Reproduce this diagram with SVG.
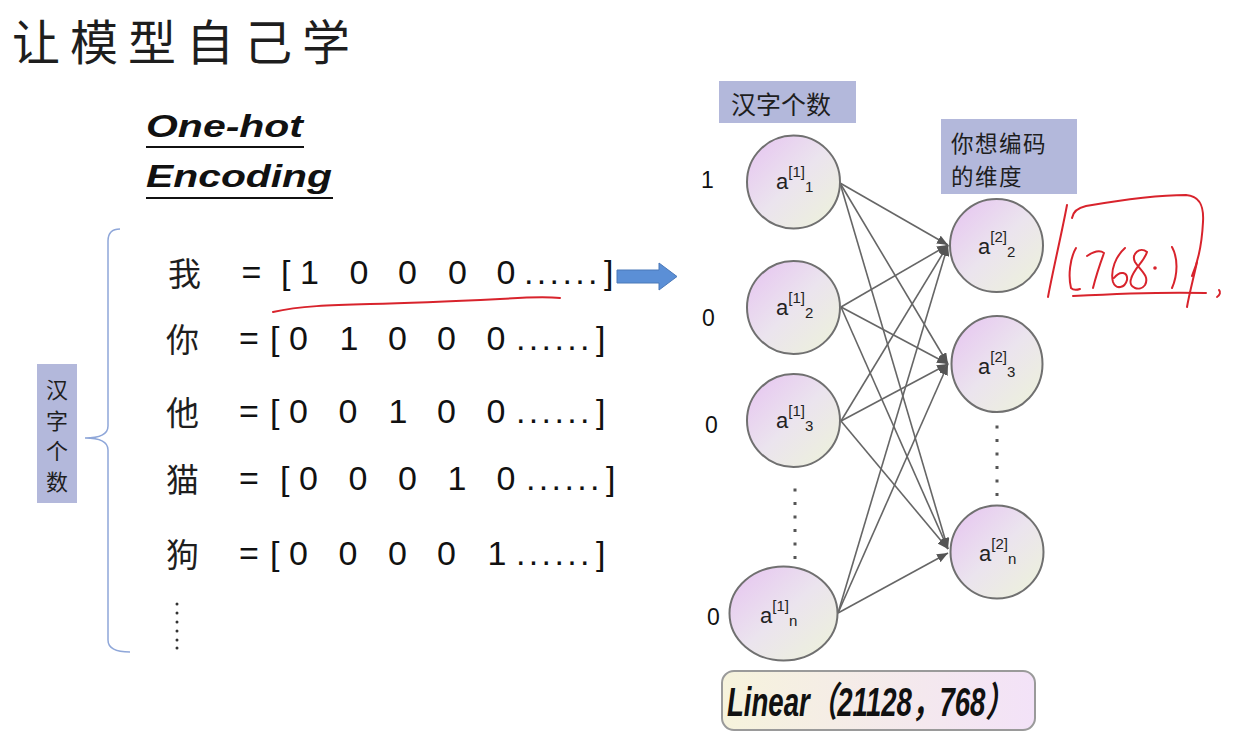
<svg xmlns="http://www.w3.org/2000/svg" width="1252" height="740" viewBox="0 0 1252 740">
<style>
.cjk{font-family:"Noto Sans CJK SC","Noto Sans",sans-serif;fill:#1e1e1e}
.lat{font-family:"Liberation Sans",Arial,sans-serif;fill:#111}
.row{font-size:34px}
.ch{font-size:33px}
.lbl{font-family:"Liberation Sans",Arial,sans-serif;font-size:22px;fill:#222}
.sup{font-size:15px}
.node{stroke:#707070;stroke-width:2;fill:url(#ng)}
.box{fill:#b3b8db}
.conn line{stroke:#666;stroke-width:1.6;marker-end:url(#ah)}
.red{fill:none;stroke:#d8232c;stroke-width:2;stroke-linecap:round;stroke-linejoin:round}
.dot{fill:#555}
</style>
<defs>
<linearGradient id="ng" x1="0" y1="0" x2="1" y2="1">
<stop offset="0" stop-color="#e6c2f1"/>
<stop offset="0.5" stop-color="#ebe4ee"/>
<stop offset="1" stop-color="#edf3d9"/>
</linearGradient>
<linearGradient id="lg" x1="0" y1="0" x2="1" y2="0">
<stop offset="0" stop-color="#f6f3dc"/>
<stop offset="1" stop-color="#f3e2f8"/>
</linearGradient>
<marker id="ah" markerUnits="userSpaceOnUse" markerWidth="11" markerHeight="9" refX="11" refY="4.5" orient="auto">
<path d="M0,0 L11,4.5 L0,9 z" fill="#555"/>
</marker>
</defs>
<rect width="1252" height="740" fill="#ffffff"/>

<g id="title">
<text class="cjk" x="12" y="60" font-size="48" letter-spacing="10" fill="#2a2a2a">让模型自己学</text>
</g>

<g id="onehot-heading">
<text class="lat" x="146" y="137" font-size="31" font-weight="bold" font-style="italic" textLength="157" lengthAdjust="spacingAndGlyphs">One-hot</text>
<line x1="146" y1="147" x2="304" y2="147" stroke="#111" stroke-width="2"/>
<text class="lat" x="146" y="187" font-size="31" font-weight="bold" font-style="italic" textLength="186" lengthAdjust="spacingAndGlyphs">Encoding</text>
<line x1="146" y1="198" x2="333" y2="198" stroke="#111" stroke-width="2"/>
</g>

<g id="brace">
<path d="M120,229 Q108,229 108,241 L108,426 Q108,438 85,438 Q108,438 108,450 L108,640 Q108,652 130,652" fill="none" stroke="#8fa7d9" stroke-width="1.5"/>
</g>

<g id="left-label">
<rect class="box" x="37" y="364" width="40" height="139"/>
<text class="cjk" font-size="22" text-anchor="middle">
<tspan x="57" y="398">汉</tspan><tspan x="57" y="429">字</tspan><tspan x="57" y="459">个</tspan><tspan x="57" y="490">数</tspan>
</text>
</g>

<g id="row-wo">
<text class="cjk ch" x="168" y="286">我</text>
<text class="lat row" x="251.5" y="284" text-anchor="middle">=</text>
<text class="lat row" x="281" y="284">[</text>
<text class="lat row" text-anchor="middle" y="284"><tspan x="309.5">1</tspan><tspan x="359">0</tspan><tspan x="407.5">0</tspan><tspan x="457.5">0</tspan><tspan x="506">0</tspan></text>
<text class="lat row" x="524" y="284" letter-spacing="3.35">......</text>
<text class="lat row" x="604" y="284">]</text>
</g>

<g id="row-ni">
<text class="cjk ch" x="166" y="352">你</text>
<text class="lat row" x="249" y="350" text-anchor="middle">=</text>
<text class="lat row" x="270" y="350">[</text>
<text class="lat row" text-anchor="middle" y="350"><tspan x="298.5">0</tspan><tspan x="349">1</tspan><tspan x="397.5">0</tspan><tspan x="446.5">0</tspan><tspan x="496">0</tspan></text>
<text class="lat row" x="516" y="350" letter-spacing="3.35">......</text>
<text class="lat row" x="596" y="350">]</text>
</g>

<g id="row-ta">
<text class="cjk ch" x="166" y="425">他</text>
<text class="lat row" x="249" y="423" text-anchor="middle">=</text>
<text class="lat row" x="270" y="423">[</text>
<text class="lat row" text-anchor="middle" y="423"><tspan x="298.5">0</tspan><tspan x="348">0</tspan><tspan x="398">1</tspan><tspan x="446.5">0</tspan><tspan x="496">0</tspan></text>
<text class="lat row" x="516" y="423" letter-spacing="3.35">......</text>
<text class="lat row" x="596" y="423">]</text>
</g>

<g id="row-mao">
<text class="cjk ch" x="166" y="492">猫</text>
<text class="lat row" x="249" y="490" text-anchor="middle">=</text>
<text class="lat row" x="280" y="490">[</text>
<text class="lat row" text-anchor="middle" y="490"><tspan x="308.5">0</tspan><tspan x="358">0</tspan><tspan x="407.5">0</tspan><tspan x="457">1</tspan><tspan x="506">0</tspan></text>
<text class="lat row" x="526" y="490" letter-spacing="3.35">......</text>
<text class="lat row" x="606" y="490">]</text>
</g>

<g id="row-gou">
<text class="cjk ch" x="166" y="567">狗</text>
<text class="lat row" x="249" y="565" text-anchor="middle">=</text>
<text class="lat row" x="270" y="565">[</text>
<text class="lat row" text-anchor="middle" y="565"><tspan x="298.5">0</tspan><tspan x="348">0</tspan><tspan x="397.5">0</tspan><tspan x="446.5">0</tspan><tspan x="497">1</tspan></text>
<text class="lat row" x="516" y="565" letter-spacing="3.35">......</text>
<text class="lat row" x="596" y="565">]</text>
</g>

<g id="rows-ellipsis" fill="#333">
<circle cx="177" cy="604" r="1.5"/><circle cx="177" cy="613" r="1.5"/><circle cx="177" cy="622" r="1.5"/><circle cx="177" cy="631" r="1.5"/><circle cx="177" cy="640" r="1.5"/><circle cx="177" cy="648" r="1.5"/>
</g>

<g id="red-underline">
<path class="red" d="M273,312 C300,306 330,305 370,304 C420,303 460,301 500,299 C530,297 550,297 560,298" stroke-width="1.5"/>
</g>

<g id="big-arrow">
<path d="M617,270 L659,270 L659,263 L677,276.5 L659,290 L659,283 L617,283 z" fill="#5b8fd6" stroke="#4a78b8" stroke-width="1"/>
</g>

<g id="box-hanzi">
<rect class="box" x="719" y="81" width="137" height="42"/>
<text class="cjk" x="731" y="114" font-size="25">汉字个数</text>
</g>

<g id="box-dim">
<rect class="box" x="941" y="119" width="136" height="75"/>
<text class="cjk" x="951" y="151.5" font-size="22.5" letter-spacing="1.5">你想编码</text>
<text class="cjk" x="951" y="184.5" font-size="22.5" letter-spacing="1.5">的维度</text>
</g>

<g id="inputs">
<text class="lat" x="701" y="188" font-size="23">1</text>
<text class="lat" x="702" y="326" font-size="23">0</text>
<text class="lat" x="705" y="433" font-size="23">0</text>
<text class="lat" x="707" y="625" font-size="23">0</text>
</g>

<g class="conn" id="connectors">
<line x1="840" y1="183" x2="948" y2="245"/>
<line x1="840" y1="183" x2="948" y2="364"/>
<line x1="840" y1="183" x2="948" y2="549"/>
<line x1="841" y1="307" x2="948" y2="245"/>
<line x1="841" y1="307" x2="948" y2="364"/>
<line x1="841" y1="307" x2="948" y2="549"/>
<line x1="841" y1="421" x2="948" y2="245"/>
<line x1="841" y1="421" x2="948" y2="364"/>
<line x1="841" y1="421" x2="948" y2="549"/>
<line x1="838" y1="613" x2="948" y2="245"/>
<line x1="838" y1="613" x2="948" y2="364"/>
<line x1="838" y1="613" x2="948" y2="553"/>
</g>

<g id="n11">
<circle class="node" cx="793.5" cy="182" r="46.5"/>
<text class="lbl" x="776" y="189">a<tspan class="sup" dy="-12">[1]</tspan><tspan class="sup" dy="15">1</tspan></text>
</g>
<g id="n12">
<circle class="node" cx="793.5" cy="307.5" r="46.5"/>
<text class="lbl" x="776" y="315">a<tspan class="sup" dy="-12">[1]</tspan><tspan class="sup" dy="15">2</tspan></text>
</g>
<g id="n13">
<circle class="node" cx="793.5" cy="420.5" r="46.5"/>
<text class="lbl" x="776" y="428">a<tspan class="sup" dy="-12">[1]</tspan><tspan class="sup" dy="15">3</tspan></text>
</g>
<g id="n1n">
<ellipse class="node" cx="783.5" cy="613.5" rx="54" ry="47"/>
<text class="lbl" x="760" y="623">a<tspan class="sup" dy="-12">[1]</tspan><tspan class="sup" dy="15">n</tspan></text>
</g>
<g id="dots1" class="dot">
<rect x="793.5" y="488.5" width="3" height="3"/><rect x="793.5" y="502" width="3" height="3"/><rect x="793.5" y="515.5" width="3" height="3"/><rect x="793.5" y="529" width="3" height="3"/><rect x="793.5" y="542.5" width="3" height="3"/><rect x="793.5" y="556" width="3" height="3"/>
</g>

<g id="n22">
<circle class="node" cx="996.5" cy="245.5" r="46.5"/>
<text class="lbl" x="978" y="254">a<tspan class="sup" dy="-12">[2]</tspan><tspan class="sup" dy="15">2</tspan></text>
</g>
<g id="n23">
<ellipse class="node" cx="997" cy="364" rx="45.5" ry="48"/>
<text class="lbl" x="978" y="374">a<tspan class="sup" dy="-12">[2]</tspan><tspan class="sup" dy="15">3</tspan></text>
</g>
<g id="n2n">
<circle class="node" cx="997" cy="552" r="46.5"/>
<text class="lbl" x="979" y="561">a<tspan class="sup" dy="-12">[2]</tspan><tspan class="sup" dy="15">n</tspan></text>
</g>
<g id="dots2" class="dot">
<rect x="995.5" y="425.5" width="3" height="3"/><rect x="995.5" y="439" width="3" height="3"/><rect x="995.5" y="452.5" width="3" height="3"/><rect x="995.5" y="466" width="3" height="3"/><rect x="995.5" y="479.5" width="3" height="3"/><rect x="995.5" y="493" width="3" height="3"/>
</g>

<g id="linear-box">
<rect x="722" y="671" width="313" height="59" rx="12" fill="url(#lg)" stroke="#9a9a9a" stroke-width="2"/>
<text x="727" y="716" font-family="'Liberation Sans','Noto Sans CJK SC',sans-serif" font-size="40" font-weight="bold" font-style="italic" fill="#111" textLength="286" lengthAdjust="spacingAndGlyphs">Linear（21128，768）</text>
</g>

<g id="handwriting">
<path class="red" d="M1067,205 C1062,232 1053,270 1048,297"/>
<path class="red" d="M1072,218 C1073,212 1077,208 1086,206 C1115,201 1160,195 1186,195 C1200,196 1204,206 1203,222 C1202,242 1198,262 1192,276"/>
<path class="red" d="M1197,262 C1193,280 1189,295 1187,307"/>
<path class="red" d="M1073,296 C1110,294 1170,292 1206,293"/>
<path class="red" d="M1076,248 C1070,258 1068,276 1071,288 C1073,290 1077,290 1080,289"/>
<path class="red" d="M1087,256 C1093,252 1100,250 1104,253 C1100,264 1096,276 1093,288"/>
<path class="red" d="M1125,248 C1116,256 1110,270 1113,282 C1116,290 1125,288 1127,280 C1128,272 1120,270 1114,278"/>
<path class="red" d="M1147,252 C1140,246 1131,254 1135,262 C1140,270 1150,276 1145,285 C1140,292 1128,288 1131,279 C1134,268 1144,262 1147,252"/>
<circle cx="1155" cy="268" r="1.8" fill="#d8232c"/>
<path class="red" d="M1172,247 C1178,258 1178,274 1172,288"/>
<path class="red" d="M1219,290 C1221,292 1220,295 1217,297" stroke-width="1.6"/>
</g>
</svg>
